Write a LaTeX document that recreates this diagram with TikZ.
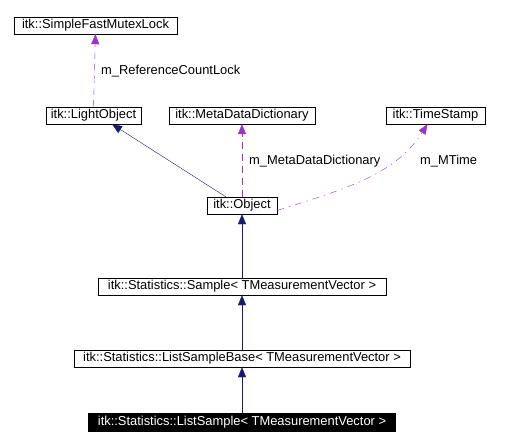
\documentclass[tikz,border=0pt]{standalone}
\usepackage{fontspec}
\setmainfont{Liberation Sans}
\usetikzlibrary{arrows.meta}
\definecolor{inhblue}{HTML}{191970}
\definecolor{usepurple}{HTML}{9A32CD}
\tikzset{
  classbox/.style={draw, thin, inner sep=0pt, minimum height=17pt,
    font=\fontsize{12.9}{14}\selectfont},
  inherit/.style={inhblue, -{Triangle[length=10pt,width=8pt]}},
  usage/.style={usepurple, dash pattern=on 7pt off 5pt,
    -{Triangle[length=10pt,width=8pt]}},
  lbl/.style={anchor=west, inner sep=0pt, font=\fontsize{12.9}{14}\selectfont}
}
\begin{document}
\begin{tikzpicture}[x=1pt,y=-1pt]
  \useasboundingbox (0,0) rectangle (518,446);

  % classes
  \node[classbox, minimum width=163pt] (mutex) at (95.5,25.5) {itk::SimpleFastMutexLock};
  \node[classbox, minimum width=95pt]  (light) at (93.5,115.5) {itk::LightObject};
  \node[classbox, minimum width=146pt] (dict)  at (242,115.5) {itk::MetaDataDictionary};
  \node[classbox, minimum width=99pt]  (stamp) at (435.5,115.5) {itk::TimeStamp};
  \node[classbox, minimum width=70pt]  (obj)   at (242,205.5) {itk::Object};
  \node[classbox, minimum width=288pt] (smp)   at (242,286.5) {itk::Statistics::Sample< TMeasurementVector >};
  \node[classbox, minimum width=336pt] (base)  at (242,358.5) {itk::Statistics::ListSampleBase< TMeasurementVector >};
  \node[classbox, minimum width=307pt, minimum height=18pt, fill=black, text=white]
       (lst) at (242,422) {itk::Statistics::ListSample< TMeasurementVector >};

  % inheritance
  \draw[inherit] (lst) -- (base);
  \draw[inherit] (base) -- (smp);
  \draw[inherit] (smp) -- (obj);
  \draw[inherit] ([xshift=19pt]obj.north west) -- ([xshift=18.5pt]light.south);

  % members
  \draw[usage] (light.north) -- (mutex.south);
  \node[lbl] (lref) at (101,71) {m\_ReferenceCountLock};
  \draw[usage] (obj.north) -- (dict.south);
  \node[lbl] (ldict) at (249,161) {m\_MetaDataDictionary};
  \draw[usage, dash pattern=on 7pt off 5pt on 1.5pt off 5pt]
       ([yshift=-5pt]obj.east) .. controls (345,189) and (395,175) .. ([xshift=-8pt]stamp.south);
  \node[lbl] (ltime) at (420,161) {m\_MTime};

\end{tikzpicture}
\end{document}
